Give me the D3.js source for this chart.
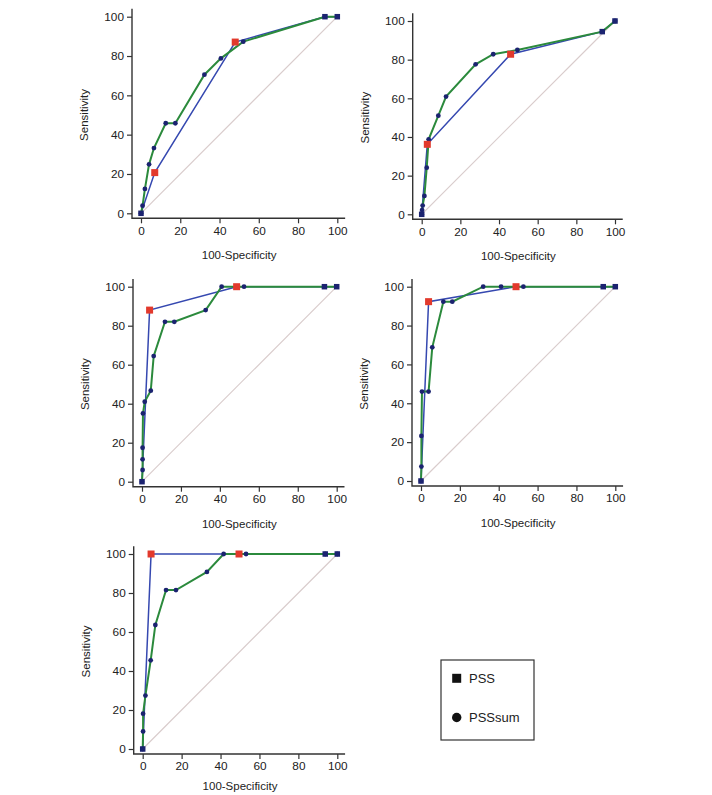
<!DOCTYPE html>
<html>
<head>
<meta charset="utf-8">
<script src="https://cdn.jsdelivr.net/npm/d3@7"></script>
<style>
  body { margin: 0; background: #fff; }
  svg text { font-family: "Liberation Sans", Arial, sans-serif; fill: #222; }
</style>
</head>
<body>
<svg id="roc" width="712" height="795"></svg>
<script>
var svg = d3.select("#roc");

// tick values shared by every panel
var tickValues = [0, 20, 40, 60, 80, 100];

// panel 1
var p1PssX = [0, 7, 48, 93.7, 100];
var p1PssY = [0, 20.7, 87.1, 100, 100];
var p1Cut = [1, 2];
var p1SumX = [0, 0.8, 2, 4.1, 6.6, 12.6, 17.5, 32.3, 40.7, 52.1, 93.7, 100];
var p1SumY = [0, 3.9, 12.4, 24.9, 33.2, 45.8, 45.8, 70.5, 78.8, 87.3, 100, 100];

// panel 2
var p2PssX = [0, 2.9, 46, 93.4, 100];
var p2PssY = [0, 36.2, 82.8, 94.5, 100];
var p2Cut = [1, 2];
var p2SumX = [0, 0.2, 0.5, 1.4, 2.6, 3.6, 8.6, 12.6, 27.9, 37, 49.5, 93.4, 100];
var p2SumY = [0, 2.2, 4.5, 9.5, 24.1, 38.8, 51, 60.9, 77.6, 82.8, 85, 94.5, 100];

// panel 3
var p3PssX = [0, 3.9, 48.6, 93.7, 100];
var p3PssY = [0, 88, 100, 100, 100];
var p3Cut = [1, 2];
var p3SumX = [0, 0.3, 0.3, 0.3, 0.5, 1.4, 4.5, 6, 11.8, 16.6, 32.7, 40.9, 52.4, 93.7, 100];
var p3SumY = [0, 6, 11.5, 17.4, 35, 41, 46.7, 64.4, 82, 82, 88, 100, 100, 100, 100];

// panel 4
var p4PssX = [0, 3.9, 48.9, 93.8, 100];
var p4PssY = [0, 92.3, 100, 100, 100];
var p4Cut = [1, 2];
var p4SumX = [0, 0.2, 0.2, 0.5, 3.9, 5.8, 11.5, 16.1, 32, 41.2, 52.7, 93.8, 100];
var p4SumY = [0, 7.4, 23.2, 46, 46, 68.8, 92.3, 92.3, 100, 100, 100, 100, 100];

// panel 5
var p5PssX = [0, 4.3, 49.5, 93.8, 100];
var p5PssY = [0, 100, 100, 100, 100];
var p5Cut = [1, 2];
var p5SumX = [0, 0.2, 0.2, 1.4, 4.1, 6.5, 12, 17.1, 33, 41.6, 53.1, 93.8, 100];
var p5SumY = [0, 9, 18.1, 27.4, 45.5, 63.6, 81.5, 81.5, 90.8, 100, 100, 100, 100];

var legendLabels = ["PSS", "PSSsum"];

var blueLine = "#3548b0", greenLine = "#2b8a3c", navy = "#1b2370", red = "#e2392c", diag = "#d9cccc";

// where each panel sits: pixel of value 0 and 100 on each axis
var panels = [
  {x0: 141, x1: 337.3, y0: 213.3, y1: 16.7, pssX: p1PssX, pssY: p1PssY, cut: p1Cut, sumX: p1SumX, sumY: p1SumY},
  {x0: 421.7, x1: 615, y0: 214.3, y1: 21, pssX: p2PssX, pssY: p2PssY, cut: p2Cut, sumX: p2SumX, sumY: p2SumY},
  {x0: 142, x1: 336.7, y0: 481.7, y1: 286.7, pssX: p3PssX, pssY: p3PssY, cut: p3Cut, sumX: p3SumX, sumY: p3SumY},
  {x0: 421, x1: 615.3, y0: 481, y1: 286.7, pssX: p4PssX, pssY: p4PssY, cut: p4Cut, sumX: p4SumX, sumY: p4SumY},
  {x0: 142.7, x1: 337.3, y0: 749, y1: 554, pssX: p5PssX, pssY: p5PssY, cut: p5Cut, sumX: p5SumX, sumY: p5SumY}
];

function zip(xs, ys){
  return xs.map(function(x, i){ return {x: x, y: ys[i], i: i}; });
}

function drawPanel(p){
  var xScale = d3.scaleLinear().domain([0, 100]).range([p.x0, p.x1]);
  var yScale = d3.scaleLinear().domain([0, 100]).range([p.y0, p.y1]);
  var axisX = p.x0 - 9, axisY = p.y0 + 5;

  var g = svg.append("g");

  // L shaped frame with ticks
  var xAxis = d3.axisBottom(xScale).tickValues(tickValues).tickSize(5).tickPadding(3);
  var yAxis = d3.axisLeft(yScale).tickValues(tickValues).tickSize(5).tickPadding(3);

  var gx = g.append("g").attr("transform", "translate(0," + axisY + ")").call(xAxis);
  var gy = g.append("g").attr("transform", "translate(" + axisX + ",0)").call(yAxis);
  gx.select(".domain").remove();
  gy.select(".domain").remove();
  g.selectAll(".tick line").attr("stroke", "#333").attr("stroke-width", 1.2);
  g.selectAll(".tick text").attr("font-size", 11.8).attr("font-family", "Liberation Sans, Arial, sans-serif").attr("fill", "#222");

  g.append("path")
    .attr("d", "M" + axisX + "," + yScale(104) + "V" + axisY + "H" + xScale(104))
    .attr("fill", "none")
    .attr("stroke", "#333")
    .attr("stroke-width", 1.4);

  // bottom panel sits at the page edge, keep its title inside
  g.append("text")
    .attr("x", (p.x0 + p.x1) / 2)
    .attr("y", Math.min(axisY + 41, 790))
    .attr("text-anchor", "middle")
    .attr("font-size", 11.5)
    .text("100-Specificity");

  g.append("text")
    .attr("transform", "translate(" + (axisX - 44) + "," + ((p.y0 + p.y1) / 2) + ")rotate(-90)")
    .attr("text-anchor", "middle")
    .attr("font-size", 11.5)
    .text("Sensitivity");

  // reference diagonal
  g.append("line")
    .attr("x1", xScale(0)).attr("y1", yScale(0))
    .attr("x2", xScale(100)).attr("y2", yScale(100))
    .attr("stroke", diag)
    .attr("stroke-width", 1.2);

  var line = d3.line()
    .x(function(d){ return xScale(d.x); })
    .y(function(d){ return yScale(d.y); });

  var pss = zip(p.pssX, p.pssY);
  var sum = zip(p.sumX, p.sumY);

  g.append("path").datum(pss)
    .attr("d", line)
    .attr("fill", "none")
    .attr("stroke", blueLine)
    .attr("stroke-width", 1.5);

  g.append("path").datum(sum)
    .attr("d", line)
    .attr("fill", "none")
    .attr("stroke", greenLine)
    .attr("stroke-width", 2);

  g.selectAll("circle.sum").data(sum).enter()
    .append("circle")
    .attr("class", "sum")
    .attr("cx", function(d){ return xScale(d.x); })
    .attr("cy", function(d){ return yScale(d.y); })
    .attr("r", 2.4)
    .attr("fill", navy);

  g.selectAll("rect.pss").data(pss).enter()
    .append("rect")
    .attr("class", "pss")
    .attr("width", function(d){ return p.cut.indexOf(d.i) >= 0 ? 7 : 5.5; })
    .attr("height", function(d){ return p.cut.indexOf(d.i) >= 0 ? 7 : 5.5; })
    .attr("x", function(d){ return xScale(d.x) - (p.cut.indexOf(d.i) >= 0 ? 3.5 : 2.75); })
    .attr("y", function(d){ return yScale(d.y) - (p.cut.indexOf(d.i) >= 0 ? 3.5 : 2.75); })
    .attr("fill", function(d){ return p.cut.indexOf(d.i) >= 0 ? red : navy; });
}

panels.forEach(drawPanel);

// legend box
var legend = svg.append("g");
legend.append("rect")
  .attr("x", 441).attr("y", 660)
  .attr("width", 93).attr("height", 80)
  .attr("fill", "#fff")
  .attr("stroke", "#333")
  .attr("stroke-width", 1.2);

legend.selectAll("text.lg").data(legendLabels).enter()
  .append("text")
  .attr("class", "lg")
  .attr("x", 469)
  .attr("y", function(d, i){ return 683 + i * 39; })
  .attr("font-size", 13)
  .text(function(d){ return d; });

legend.append("rect")
  .attr("x", 452.2).attr("y", 673.8)
  .attr("width", 9).attr("height", 9)
  .attr("fill", "#111");
legend.append("circle")
  .attr("cx", 456.7).attr("cy", 717.5)
  .attr("r", 4.7)
  .attr("fill", "#111");
</script>
</body>
</html>
